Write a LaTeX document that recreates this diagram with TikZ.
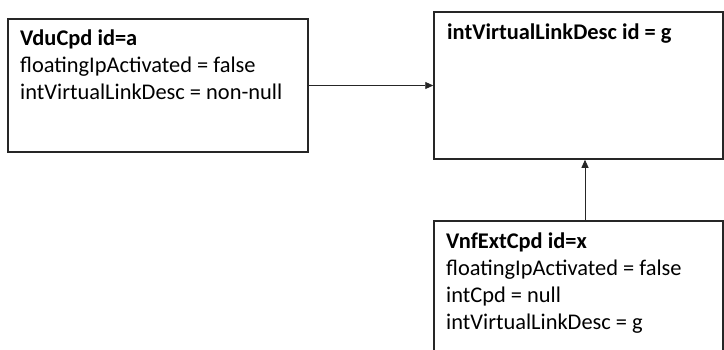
\documentclass[tikz,border=0pt]{standalone}
\usepackage{fontspec}
\setmainfont{Carlito}
\usetikzlibrary{arrows.meta}
\tikzset{
  box/.style={draw=black!85, line width=1.5bp, inner sep=0pt},
  txt/.style={anchor=north west, align=left, inner sep=0pt, font=\fontsize{22.5}{27}\selectfont},
  conn/.style={draw=black!85, line width=0.9bp, -{Triangle[length=8bp,width=7bp]}}
}
\begin{document}
\begin{tikzpicture}[x=1bp,y=-1bp]
\useasboundingbox (0,0) rectangle (724,349);
\clip (0,0) rectangle (724,349);
\node[box, minimum width=300bp, minimum height=133bp] (a) at (158,85.5) {};
\node[box, minimum width=289bp, minimum height=147bp] (g) at (578.5,85.5) {};
\node[box, minimum width=289bp, minimum height=140bp] (x) at (578.5,291) {};
\node[txt] (ta) at (20,30) {\textbf{VduCpd id=a}\\floatingIpActivated = false\\intVirtualLinkDesc = non-null};
\node[txt] (tg) at (447,24) {\textbf{intVirtualLinkDesc id = g}};
\node[txt] (tx) at (446,233) {\textbf{VnfExtCpd id=x}\\floatingIpActivated = false\\intCpd = null\\intVirtualLinkDesc = g};
\draw[conn] (a.east) -- (g.west |- a.east);
\draw[conn] (x.north -| 585,0) -- (g.south -| 585,0);
\end{tikzpicture}
\end{document}
